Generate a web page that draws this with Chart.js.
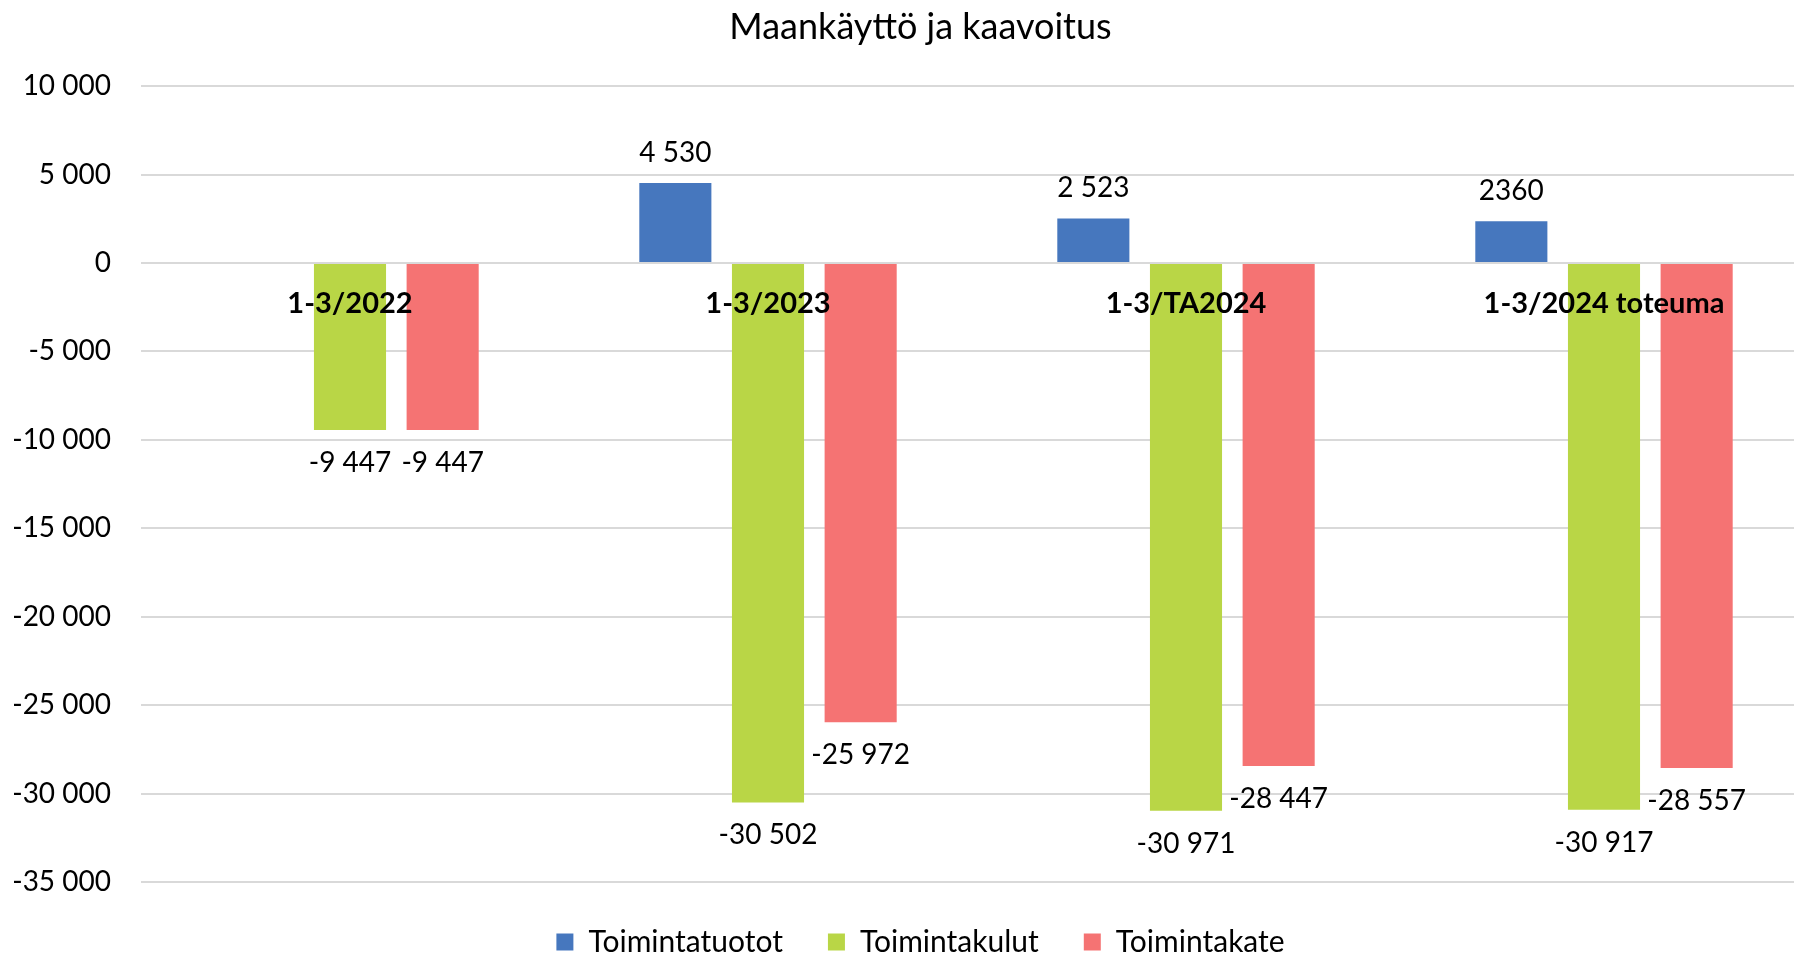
<!DOCTYPE html>
<html>
<head>
<meta charset="utf-8">
<script src="https://cdn.jsdelivr.net/npm/chart.js@4.4.1/dist/chart.umd.min.js"></script>
<style>
  html, body { margin: 0; padding: 0; overflow: hidden; background: #fff; }
  #chart-wrapper { position: relative; width: 1842px; height: 967px; }
</style>
</head>
<body>
<div id="chart-wrapper"><canvas id="chart"></canvas></div>
<script>
const categories = ['1-3/2022', '1-3/2023', '1-3/TA2024', '1-3/2024 toteuma'];
const toimintatuotot = [null, 4530, 2523, 2360];
const toimintakulut = [-9447, -30502, -30971, -30917];
const toimintakate = [-9447, -25972, -28447, -28557];
// the last revenue label has no thousands space in the original
const tuototUngrouped = [false, false, false, true];
const yTicks = [10000, 5000, 0, -5000, -10000, -15000, -20000, -25000, -30000, -35000];

const FONT = 'Lato';

const fmt = (v, grouped = true) => {
  const s = String(Math.abs(v));
  const body = grouped ? s.replace(/\B(?=(\d{3})+(?!\d))/g, ' ') : s;
  return (v < 0 ? '-' : '') + body;
};

// value labels above / below each bar
const barLabels = {
  id: 'barLabels',
  afterDatasetsDraw(chart) {
    const { ctx } = chart;
    ctx.save();
    ctx.font = `28px ${FONT}`;
    ctx.fillStyle = '#000';
    ctx.textAlign = 'center';
    ctx.textBaseline = 'middle';
    chart.data.datasets.forEach((ds, i) => {
      const meta = chart.getDatasetMeta(i);
      meta.data.forEach((bar, j) => {
        const v = ds.data[j];
        if (v == null) return;
        const grouped = !(ds.ungrouped && ds.ungrouped[j]);
        const y = v >= 0 ? bar.y - 30 : bar.y + 33;
        ctx.fillText(fmt(v, grouped), bar.x, y);
      });
    });
    ctx.restore();
  },
};

// let the y tick labels use the left padding instead of being clipped by it
const widenYAxis = {
  id: 'widenYAxis',
  afterLayout(chart) {
    chart.scales.y.left = 0;
  },
};

const data = {
  labels: categories,
  datasets: [
    {
      label: 'Toimintatuotot',
      data: toimintatuotot,
      ungrouped: tuototUngrouped,
      backgroundColor: '#4677BE',
      borderWidth: 0,
    },
    {
      label: 'Toimintakulut',
      data: toimintakulut,
      backgroundColor: '#B9D646',
      borderWidth: 0,
    },
    {
      label: 'Toimintakate',
      data: toimintakate,
      backgroundColor: '#F57373',
      borderWidth: 0,
    },
  ],
};

const options = {
  responsive: true,
  maintainAspectRatio: false,
  animation: false,
  categoryPercentage: 0.665,
  barPercentage: 0.778,
  layout: {
    padding: { left: 28, right: 29, top: 0, bottom: 0 },
  },
  plugins: {
    title: {
      display: true,
      text: 'Maankäyttö ja kaavoitus',
      color: '#000',
      font: { family: FONT, size: 36, weight: 'normal' },
      padding: { top: 6, bottom: 37 },
    },
    legend: {
      position: 'bottom',
      labels: {
        color: '#000',
        font: { family: FONT, size: 30 },
        boxWidth: 17,
        boxHeight: 17,
        padding: 45,
      },
    },
    tooltip: { enabled: false },
  },
  scales: {
    x: {
      position: { y: 0 },
      grid: { display: false, drawTicks: false },
      border: { display: false },
      ticks: {
        z: 1,
        color: '#000',
        font: { family: FONT, size: 29, weight: 'bold' },
        padding: 23,
        maxRotation: 0,
        autoSkip: false,
      },
    },
    y: {
      min: Math.min(...yTicks),
      max: Math.max(...yTicks),
      afterBuildTicks: scale => {
        scale.ticks = yTicks.map(value => ({ value }));
      },
      afterFit: scale => {
        scale.width = 113;
      },
      grid: { color: '#d9d9d9', lineWidth: 2, drawTicks: false },
      border: { display: false },
      ticks: {
        color: '#000',
        font: { family: FONT, size: 28 },
        padding: 30,
        callback: v => fmt(v),
      },
    },
  },
};

new Chart(document.getElementById('chart').getContext('2d'), {
  type: 'bar',
  data,
  options,
  plugins: [barLabels, widenYAxis],
});
</script>
</body>
</html>
